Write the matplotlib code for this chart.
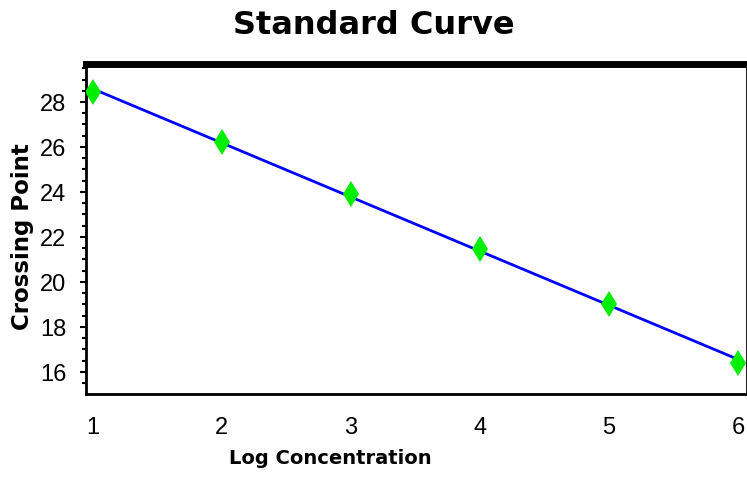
import numpy as np
import matplotlib
matplotlib.use('Agg')
import matplotlib.pyplot as plt
from matplotlib.ticker import MultipleLocator, FixedLocator

log_conc = [1, 2, 3, 4, 5, 6]
crossing_point = [28.44, 26.2, 23.9, 21.47, 19.0, 16.4]
x_ticks = [1, 2, 3, 4, 5, 6]
y_ticks = [16, 18, 20, 22, 24, 26, 28]

fig = plt.figure(figsize=(7.47, 4.85), dpi=100)
ax = fig.add_axes([0.115, 0.186, 0.885, 0.680])

# fitted standard curve
slope, icpt = np.polyfit(log_conc, crossing_point, 1)
xs = np.array([log_conc[0], log_conc[-1]])
ax.plot(xs, slope * xs + icpt, color='#0000ff', lw=2, zorder=2)
ax.plot(log_conc, crossing_point, linestyle='none', marker='d',
        markersize=13, color='#00ee00', markeredgewidth=0, zorder=3)

ax.set_xlim(0.946, 6.07)
ax.set_ylim(15.02, 29.69)

tick_font = dict(family='Liberation Sans', size=17)
ax.set_xticks(x_ticks)
ax.set_xticklabels([str(v) for v in x_ticks], **tick_font)
ax.set_yticks(y_ticks)
ax.set_yticklabels([str(v) for v in y_ticks], **tick_font)
ax.tick_params(axis='x', length=0, pad=16)
ax.xaxis.set_minor_locator(FixedLocator([2, 5]))
ax.tick_params(axis='x', which='minor', length=8, width=1.5)
ax.tick_params(axis='y', length=4, width=1.5, pad=10)
ax.yaxis.set_minor_locator(MultipleLocator(0.5))
ax.tick_params(axis='y', which='minor', length=3, width=1.5)

for s in ['left', 'bottom', 'right']:
    ax.spines[s].set_linewidth(2)
ax.spines['top'].set_linewidth(5)

ax.set_xlabel('Log Concentration', fontsize=14, fontweight='bold')
ax.xaxis.set_label_coords(0.369, -0.165)
ax.set_ylabel('Crossing Point', fontsize=16.5, fontweight='bold')
ax.yaxis.set_label_coords(-0.079, 0.48)
fig.text(0.5, 0.948, 'Standard Curve', ha='center', va='center',
         fontsize=23, fontweight='bold')

plt.savefig('out.png', dpi=100)
